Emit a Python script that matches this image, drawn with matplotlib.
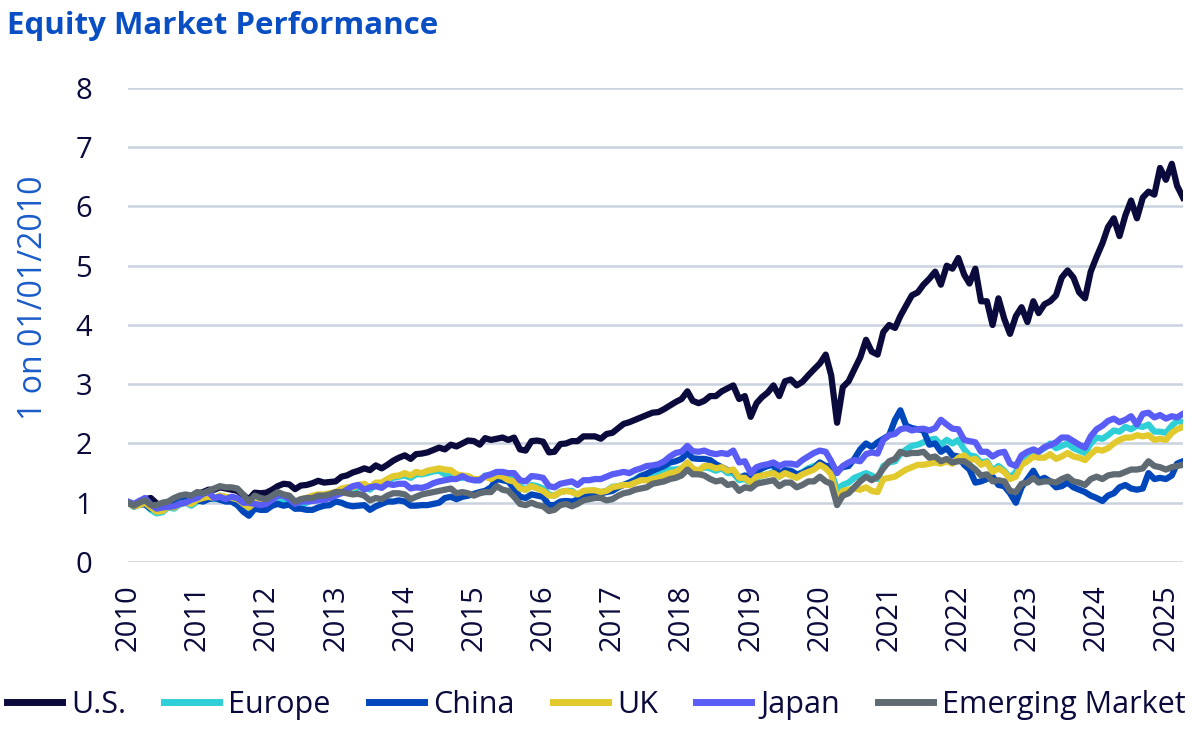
import matplotlib
matplotlib.use("Agg")
import matplotlib.pyplot as plt
import matplotlib.dates as mdates
import pandas as pd

# monthly readings (value at start of month), Jan 2010 .. Apr 2025
us = [
    1.00, 0.97, 1.00, 1.06, 1.08, 0.99, 0.94, 1.00, 0.96, 1.04, 1.08, 1.08,
    1.15, 1.18, 1.22, 1.22, 1.26, 1.24, 1.22, 1.20, 1.13, 1.06, 1.17, 1.16,
    1.17, 1.22, 1.28, 1.32, 1.31, 1.23, 1.29, 1.30, 1.33, 1.37, 1.34, 1.35,
    1.36, 1.44, 1.46, 1.51, 1.54, 1.58, 1.55, 1.63, 1.58, 1.64, 1.71, 1.76,
    1.80, 1.74, 1.82, 1.83, 1.85, 1.89, 1.93, 1.90, 1.98, 1.95, 2.00, 2.05,
    2.04, 1.98, 2.09, 2.06, 2.08, 2.10, 2.06, 2.10, 1.90, 1.88, 2.04, 2.05,
    2.03, 1.85, 1.86, 1.99, 2.00, 2.04, 2.04, 2.12, 2.12, 2.12, 2.08, 2.16,
    2.18, 2.26, 2.33, 2.36, 2.40, 2.44, 2.48, 2.52, 2.53, 2.58, 2.64, 2.70,
    2.75, 2.88, 2.72, 2.68, 2.72, 2.80, 2.80, 2.88, 2.93, 2.98, 2.75, 2.80,
    2.45, 2.68, 2.78, 2.86, 2.98, 2.80, 3.05, 3.08, 2.98, 3.04, 3.15, 3.25,
    3.35, 3.50, 3.15, 2.35, 2.95, 3.05, 3.25, 3.45, 3.75, 3.55, 3.50, 3.88,
    4.00, 3.95, 4.15, 4.33, 4.50, 4.55, 4.68, 4.78, 4.90, 4.68, 5.00, 4.95,
    5.13, 4.85, 4.70, 4.95, 4.40, 4.40, 4.00, 4.45, 4.10, 3.85, 4.15, 4.30,
    4.05, 4.40, 4.20, 4.35, 4.40, 4.50, 4.80, 4.92, 4.80, 4.55, 4.45, 4.90,
    5.15, 5.38, 5.65, 5.80, 5.50, 5.85, 6.10, 5.80, 6.15, 6.25, 6.20, 6.65,
    6.45, 6.72, 6.35, 6.15,
]
europe = [
    1.00, 0.93, 0.96, 0.98, 0.88, 0.82, 0.84, 0.92, 0.90, 0.97, 1.00, 0.95,
    1.02, 1.06, 1.08, 1.06, 1.12, 1.08, 1.06, 1.00, 0.90, 0.84, 0.94, 0.90,
    0.92, 0.98, 1.04, 1.04, 1.00, 0.90, 0.96, 1.00, 1.05, 1.08, 1.10, 1.12,
    1.16, 1.20, 1.18, 1.20, 1.26, 1.28, 1.22, 1.30, 1.30, 1.36, 1.42, 1.44,
    1.46, 1.42, 1.48, 1.48, 1.50, 1.53, 1.54, 1.48, 1.48, 1.42, 1.42, 1.44,
    1.38, 1.38, 1.46, 1.44, 1.50, 1.46, 1.40, 1.42, 1.28, 1.22, 1.30, 1.28,
    1.24, 1.14, 1.12, 1.18, 1.20, 1.20, 1.12, 1.18, 1.20, 1.20, 1.18, 1.20,
    1.27, 1.28, 1.30, 1.34, 1.40, 1.46, 1.44, 1.48, 1.48, 1.54, 1.56, 1.56,
    1.58, 1.66, 1.56, 1.54, 1.60, 1.58, 1.54, 1.58, 1.50, 1.50, 1.38, 1.40,
    1.33, 1.42, 1.46, 1.48, 1.52, 1.44, 1.52, 1.50, 1.46, 1.52, 1.58, 1.62,
    1.66, 1.62, 1.52, 1.22, 1.30, 1.34, 1.42, 1.46, 1.50, 1.46, 1.40, 1.62,
    1.68, 1.70, 1.82, 1.90, 1.96, 1.98, 2.02, 2.06, 2.08, 1.98, 2.06, 2.00,
    2.06, 1.90, 1.80, 1.78, 1.68, 1.70, 1.54, 1.62, 1.54, 1.42, 1.52, 1.70,
    1.80, 1.88, 1.86, 1.92, 2.00, 1.92, 1.96, 2.00, 1.92, 1.88, 1.84, 2.00,
    2.10, 2.08, 2.14, 2.22, 2.20, 2.28, 2.24, 2.30, 2.28, 2.32, 2.20, 2.20,
    2.18, 2.30, 2.38, 2.36,
]
china = [
    1.00, 0.94, 0.98, 0.97, 0.90, 0.90, 0.94, 0.95, 1.00, 1.06, 1.04, 1.03,
    1.04, 1.02, 1.06, 1.08, 1.05, 1.02, 1.02, 0.96, 0.85, 0.78, 0.90, 0.88,
    0.88, 0.95, 0.98, 0.95, 0.97, 0.90, 0.90, 0.88, 0.88, 0.92, 0.95, 0.96,
    1.02, 1.00, 0.96, 0.94, 0.95, 0.96, 0.88, 0.94, 0.98, 1.02, 1.02, 1.04,
    1.02, 0.95, 0.95, 0.96, 0.96, 0.98, 1.00, 1.08, 1.10, 1.06, 1.10, 1.12,
    1.15, 1.18, 1.20, 1.26, 1.40, 1.38, 1.36, 1.24, 1.10, 1.08, 1.14, 1.12,
    1.10, 0.96, 0.96, 1.02, 1.03, 1.02, 1.05, 1.08, 1.12, 1.14, 1.16, 1.18,
    1.20, 1.26, 1.30, 1.34, 1.38, 1.45, 1.49, 1.54, 1.58, 1.62, 1.68, 1.70,
    1.74, 1.84, 1.75, 1.74, 1.74, 1.72, 1.65, 1.60, 1.55, 1.54, 1.42, 1.46,
    1.44, 1.52, 1.58, 1.62, 1.64, 1.48, 1.55, 1.54, 1.48, 1.50, 1.56, 1.58,
    1.68, 1.62, 1.62, 1.54, 1.60, 1.62, 1.74, 1.90, 2.00, 1.94, 2.02, 2.08,
    2.14, 2.40, 2.56, 2.30, 2.26, 2.24, 2.22, 1.98, 2.00, 1.86, 1.92, 1.80,
    1.78, 1.64, 1.56, 1.34, 1.36, 1.40, 1.44, 1.30, 1.28, 1.16, 1.00, 1.26,
    1.40, 1.54, 1.38, 1.42, 1.36, 1.26, 1.28, 1.34, 1.26, 1.22, 1.18, 1.12,
    1.08, 1.03, 1.12, 1.16, 1.26, 1.30, 1.24, 1.22, 1.24, 1.50, 1.40, 1.42,
    1.40, 1.46, 1.66, 1.70,
]
uk = [
    1.00, 0.94, 0.96, 1.00, 0.92, 0.85, 0.86, 0.93, 0.92, 0.98, 1.00, 0.98,
    1.05, 1.08, 1.10, 1.08, 1.12, 1.10, 1.08, 1.06, 0.98, 0.92, 1.00, 0.98,
    1.00, 1.06, 1.12, 1.12, 1.10, 1.00, 1.06, 1.08, 1.12, 1.14, 1.14, 1.16,
    1.18, 1.24, 1.26, 1.26, 1.30, 1.32, 1.26, 1.34, 1.34, 1.40, 1.45, 1.46,
    1.50, 1.46, 1.52, 1.50, 1.54, 1.56, 1.58, 1.56, 1.55, 1.48, 1.46, 1.45,
    1.40, 1.40, 1.44, 1.40, 1.46, 1.44, 1.38, 1.36, 1.24, 1.22, 1.28, 1.24,
    1.20, 1.12, 1.12, 1.18, 1.20, 1.18, 1.14, 1.20, 1.21, 1.21, 1.18, 1.20,
    1.26, 1.28, 1.30, 1.30, 1.34, 1.38, 1.38, 1.40, 1.42, 1.46, 1.50, 1.52,
    1.58, 1.68, 1.58, 1.54, 1.62, 1.62, 1.58, 1.60, 1.54, 1.56, 1.42, 1.42,
    1.34, 1.44, 1.46, 1.48, 1.50, 1.44, 1.50, 1.46, 1.42, 1.48, 1.52, 1.56,
    1.64, 1.58, 1.48, 1.06, 1.20, 1.22, 1.24, 1.22, 1.26, 1.20, 1.18, 1.40,
    1.42, 1.44, 1.50, 1.56, 1.60, 1.64, 1.64, 1.66, 1.68, 1.66, 1.70, 1.66,
    1.76, 1.80, 1.72, 1.74, 1.64, 1.68, 1.52, 1.58, 1.52, 1.40, 1.44, 1.64,
    1.70, 1.78, 1.76, 1.76, 1.82, 1.74, 1.78, 1.84, 1.78, 1.76, 1.72, 1.82,
    1.90, 1.88, 1.92, 2.00, 2.06, 2.10, 2.10, 2.14, 2.12, 2.14, 2.06, 2.08,
    2.06, 2.18, 2.24, 2.28,
]
japan = [
    1.02, 0.98, 1.03, 1.08, 0.97, 0.90, 0.92, 0.93, 0.94, 0.98, 1.00, 1.05,
    1.08, 1.15, 1.18, 1.08, 1.10, 1.06, 1.10, 1.08, 1.00, 1.00, 0.98, 0.96,
    0.98, 1.05, 1.12, 1.12, 1.06, 0.98, 1.02, 1.02, 1.03, 1.04, 1.05, 1.08,
    1.12, 1.16, 1.22, 1.28, 1.30, 1.22, 1.26, 1.28, 1.25, 1.32, 1.30, 1.32,
    1.32, 1.24, 1.26, 1.25, 1.28, 1.33, 1.36, 1.38, 1.40, 1.40, 1.45, 1.40,
    1.38, 1.38, 1.45, 1.48, 1.52, 1.52, 1.50, 1.50, 1.38, 1.36, 1.45, 1.44,
    1.42, 1.28, 1.26, 1.32, 1.34, 1.36, 1.30, 1.38, 1.38, 1.40, 1.40, 1.44,
    1.48, 1.50, 1.52, 1.50, 1.55, 1.58, 1.62, 1.63, 1.65, 1.70, 1.78, 1.84,
    1.86, 1.96, 1.87, 1.86, 1.88, 1.84, 1.82, 1.84, 1.82, 1.88, 1.68, 1.70,
    1.50, 1.60, 1.63, 1.65, 1.68, 1.62, 1.66, 1.66, 1.64, 1.72, 1.78, 1.84,
    1.88, 1.86, 1.70, 1.50, 1.62, 1.68, 1.72, 1.70, 1.82, 1.85, 1.83, 2.06,
    2.14, 2.16, 2.24, 2.26, 2.22, 2.24, 2.25, 2.22, 2.26, 2.40, 2.32, 2.25,
    2.24, 2.06, 2.04, 2.02, 1.86, 1.86, 1.78, 1.84, 1.86, 1.66, 1.62, 1.80,
    1.86, 1.90, 1.86, 1.94, 1.97, 2.02, 2.10, 2.10, 2.04, 1.98, 1.93, 2.12,
    2.24, 2.30, 2.38, 2.42, 2.36, 2.40, 2.46, 2.32, 2.50, 2.52, 2.44, 2.48,
    2.42, 2.46, 2.44, 2.50,
]
emerging = [
    1.00, 0.95, 1.00, 1.04, 0.96, 0.96, 1.00, 1.02, 1.08, 1.12, 1.14, 1.12,
    1.18, 1.16, 1.20, 1.24, 1.28, 1.26, 1.26, 1.24, 1.14, 1.02, 1.12, 1.08,
    1.06, 1.12, 1.18, 1.14, 1.12, 1.02, 1.06, 1.08, 1.08, 1.12, 1.12, 1.14,
    1.18, 1.18, 1.16, 1.14, 1.15, 1.12, 1.04, 1.08, 1.06, 1.12, 1.16, 1.16,
    1.14, 1.06, 1.10, 1.14, 1.16, 1.18, 1.20, 1.22, 1.24, 1.16, 1.18, 1.16,
    1.12, 1.16, 1.18, 1.18, 1.28, 1.22, 1.20, 1.10, 0.98, 0.96, 1.00, 0.96,
    0.94, 0.86, 0.88, 0.96, 0.98, 0.94, 0.98, 1.04, 1.06, 1.08, 1.08, 1.04,
    1.06, 1.12, 1.16, 1.18, 1.22, 1.24, 1.26, 1.32, 1.34, 1.36, 1.40, 1.42,
    1.46, 1.56, 1.48, 1.48, 1.46, 1.40, 1.36, 1.38, 1.30, 1.32, 1.20, 1.26,
    1.24, 1.32, 1.34, 1.36, 1.38, 1.28, 1.34, 1.34, 1.26, 1.30, 1.36, 1.36,
    1.44, 1.36, 1.32, 0.96, 1.12, 1.16, 1.26, 1.36, 1.44, 1.38, 1.44, 1.58,
    1.70, 1.74, 1.86, 1.82, 1.84, 1.84, 1.86, 1.76, 1.78, 1.70, 1.74, 1.68,
    1.70, 1.70, 1.64, 1.56, 1.46, 1.48, 1.36, 1.38, 1.36, 1.20, 1.18, 1.32,
    1.34, 1.42, 1.34, 1.36, 1.36, 1.34, 1.40, 1.44, 1.36, 1.34, 1.30, 1.40,
    1.44, 1.40, 1.46, 1.48, 1.48, 1.52, 1.56, 1.56, 1.58, 1.70, 1.62, 1.60,
    1.56, 1.60, 1.62, 1.64,
]

names = ["U.S.", "Europe", "China", "UK", "Japan", "Emerging Market"]
colors = ["#0b0a3c", "#2ecfd6", "#0047bb", "#e2c92e", "#5a5cf6", "#5f6a72"]
years = list(range(2010, 2026))

dates = pd.date_range("2010-01-01", periods=len(us), freq="MS")

plt.rcParams["font.family"] = ["Open Sans", "DejaVu Sans"]

fig = plt.figure(figsize=(12, 7.38), dpi=100)
ax = fig.add_axes([0.1067, 0.2385, 0.8791, 0.6423])

for name, vals, c in zip(names, [us, europe, china, uk, japan, emerging], colors):
    ax.plot(dates, vals, color=c, lw=4.5, label=name, solid_joinstyle="round")

ax.set_ylim(0, 8)
ax.set_yticks(range(0, 9))
ax.set_xlim(dates[0], dates[-1])
ax.set_xticks([pd.Timestamp(f"{y}-01-01") for y in years])
ax.xaxis.set_major_formatter(mdates.DateFormatter("%Y"))
ax.grid(axis="y", color="#c9d3de", lw=1.8)
ax.set_axisbelow(True)
for s in ax.spines.values():
    s.set_visible(False)
ax.tick_params(axis="y", length=0, pad=26, labelsize=21, labelcolor="#0b0a3c")
ax.tick_params(axis="x", length=0, pad=16, labelsize=21, labelcolor="#0b0a3c",
               labelrotation=90)

fig.text(0.006, 0.985, "Equity Market Performance", fontsize=22.5, fontweight="bold",
         color="#0a4ec4", ha="left", va="top")
fig.text(0.028, 0.596, "1 on 01/01/2010", fontsize=23, color="#1a5cc8",
         rotation=90, ha="center", va="center")

for_leg = fig.legend(loc="center", bbox_to_anchor=(0.497, 0.045), ncol=6,
                     frameon=False, fontsize=22, handlelength=1.8,
                     handletextpad=0.3, columnspacing=1.25, labelcolor="#0b0a3c")
for h in for_leg.get_lines():
    h.set_linewidth(5)

fig.savefig("out.png", dpi=100)
